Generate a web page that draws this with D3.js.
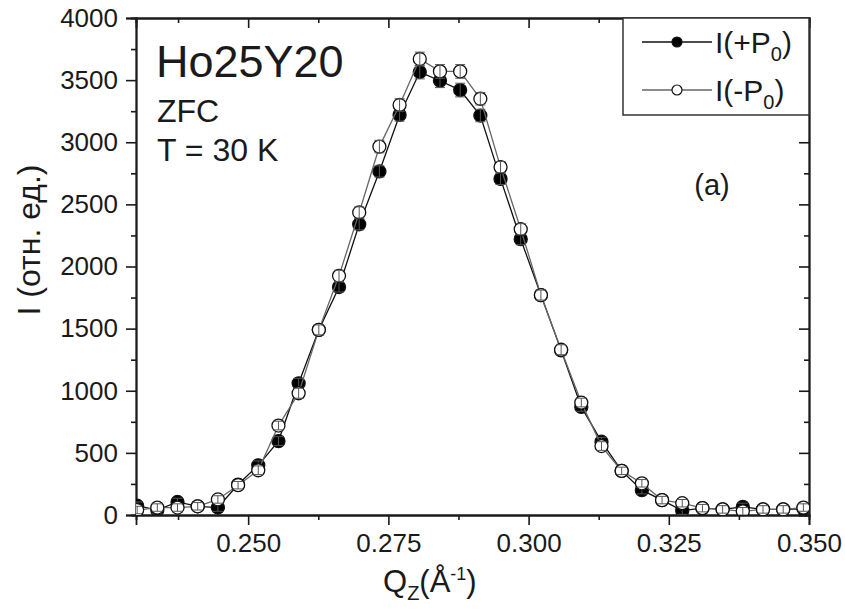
<!DOCTYPE html>
<html>
<head>
<meta charset="utf-8">
<script src="https://cdn.jsdelivr.net/npm/d3@7"></script>
<style>
  body { margin: 0; background: #fff; }
  svg text { font-family: "Liberation Sans", Arial, sans-serif; fill: #1a1a1a; }
</style>
</head>
<body>
<script>
// ----------------------------------------------------------------
// data
// ----------------------------------------------------------------
var qz = [0.2302, 0.2338, 0.2374, 0.2410, 0.2446, 0.2482, 0.2518, 0.2554, 0.2590, 0.2626,
          0.2662, 0.2698, 0.2734, 0.2770, 0.2806, 0.2842, 0.2878, 0.2914, 0.2950, 0.2986,
          0.3022, 0.3058, 0.3094, 0.3130, 0.3166, 0.3202, 0.3238, 0.3274, 0.3310, 0.3346,
          0.3382, 0.3418, 0.3454, 0.3490];

var i_plus  = [75, 40, 105, 70, 60, 245, 400, 595, 1060, 1490,
               1835, 2340, 2765, 3220, 3565, 3495, 3420, 3215, 2705, 2220,
               1770, 1325, 870, 590, 355, 200, 120, 35, 55, 45,
               65, 45, 45, 50];

var i_minus = [40, 60, 60, 70, 125, 240, 360, 720, 980, 1490,
               1925, 2435, 2965, 3300, 3670, 3570, 3570, 3350, 2800, 2300,
               1770, 1330, 905, 555, 355, 255, 120, 95, 55, 45,
               30, 45, 45, 60];

var err_plus  = [30, 30, 30, 30, 30, 30, 35, 35, 40, 40,
                 40, 45, 45, 50, 55, 55, 55, 50, 45, 45,
                 40, 40, 35, 35, 30, 30, 30, 30, 30, 30,
                 30, 30, 30, 30];

var err_minus = [30, 30, 30, 30, 30, 30, 35, 35, 40, 40,
                 45, 45, 50, 50, 55, 55, 55, 50, 45, 45,
                 40, 40, 35, 35, 30, 30, 30, 30, 30, 30,
                 30, 30, 30, 30];

var x_major = [0.250, 0.275, 0.300, 0.325, 0.350];
var x_minor = [0.2375, 0.2625, 0.2875, 0.3125, 0.3375];
var y_major = [0, 500, 1000, 1500, 2000, 2500, 3000, 3500, 4000];
var y_minor = [250, 750, 1250, 1750, 2250, 2750, 3250, 3750];

// ----------------------------------------------------------------
var W = 845, H = 609;
var margin = { top: 18, right: 36, bottom: 94, left: 136 };
var width = W - margin.left - margin.right;
var height = H - margin.top - margin.bottom;

var svg = d3.select("body").append("svg")
    .attr("width", W)
    .attr("height", H);

var g = svg.append("g")
    .attr("transform", "translate(" + margin.left + "," + margin.top + ")");

var x = d3.scaleLinear().domain([0.230, 0.350]).range([0, width]);
var y = d3.scaleLinear().domain([0, 4000]).range([height, 0]);

g.append("clipPath").attr("id", "plot-clip")
  .append("rect").attr("width", width).attr("height", height);

// ----------------------------------------------------------------
// axes (major + minor, frame on all four sides)
function style_axis(sel) {
  sel.attr("font-size", null).attr("font-family", null);
  sel.select(".domain").attr("stroke", "#1a1a1a").attr("stroke-width", 1.8);
  sel.selectAll(".tick line").attr("stroke", "#1a1a1a").attr("stroke-width", 1.6);
  sel.selectAll(".tick text").style("font-size", "26px").attr("fill", "#1a1a1a");
}

var ax_bottom = g.append("g").attr("transform", "translate(0," + height + ")")
  .call(d3.axisBottom(x).tickValues(x_major).tickSize(10).tickPadding(9).tickFormat(d3.format(".3f")));
style_axis(ax_bottom);
var ax_bottom_minor = g.append("g").attr("transform", "translate(0," + height + ")")
  .call(d3.axisBottom(x).tickValues(x_minor).tickSize(5).tickFormat(""));
style_axis(ax_bottom_minor);

var ax_top = g.append("g")
  .call(d3.axisBottom(x).tickValues(x_major).tickSize(10).tickFormat(""));
style_axis(ax_top);
var ax_top_minor = g.append("g")
  .call(d3.axisBottom(x).tickValues(x_minor).tickSize(5).tickFormat(""));
style_axis(ax_top_minor);

var ax_left = g.append("g")
  .call(d3.axisLeft(y).tickValues(y_major).tickSize(10).tickPadding(8).tickFormat(d3.format("d")));
style_axis(ax_left);
var ax_left_minor = g.append("g")
  .call(d3.axisLeft(y).tickValues(y_minor).tickSize(5).tickFormat(""));
style_axis(ax_left_minor);

var ax_right = g.append("g").attr("transform", "translate(" + width + ",0)")
  .call(d3.axisLeft(y).tickValues(y_major).tickSize(10).tickFormat(""));
style_axis(ax_right);
var ax_right_minor = g.append("g").attr("transform", "translate(" + width + ",0)")
  .call(d3.axisLeft(y).tickValues(y_minor).tickSize(5).tickFormat(""));
style_axis(ax_right_minor);

// ----------------------------------------------------------------
// series
var plot = g.append("g").attr("clip-path", "url(#plot-clip)");

var series = [
  { vals: i_plus,  errs: err_plus,  line: "#111", fill: "#000" },
  { vals: i_minus, errs: err_minus, line: "#666", fill: "#fff" }
];

var line = d3.line()
  .x(function(d) { return x(d.q); })
  .y(function(d) { return y(d.v); });

series.forEach(function(s) {
  var pts = qz.map(function(q, i) { return { q: q, v: s.vals[i], e: s.errs[i] }; });

  plot.append("path")
    .datum(pts)
    .attr("d", line)
    .attr("fill", "none")
    .attr("stroke", s.line)
    .attr("stroke-width", 1.3);

  plot.append("g").selectAll("circle")
    .data(pts)
    .enter()
    .append("circle")
    .attr("cx", function(d) { return x(d.q); })
    .attr("cy", function(d) { return y(d.v); })
    .attr("r", 6.5)
    .attr("fill", s.fill)
    .attr("stroke", "#111")
    .attr("stroke-width", 1.3);

  // error bars on top of the markers
  var eb = plot.append("g").selectAll("g")
    .data(pts)
    .enter()
    .append("g")
    .attr("stroke", "#555")
    .attr("stroke-width", 1);
  eb.append("line")
    .attr("x1", function(d) { return x(d.q); })
    .attr("x2", function(d) { return x(d.q); })
    .attr("y1", function(d) { return y(d.v - d.e); })
    .attr("y2", function(d) { return y(d.v + d.e); });
  eb.append("line")
    .attr("x1", function(d) { return x(d.q) - 5; })
    .attr("x2", function(d) { return x(d.q) + 5; })
    .attr("y1", function(d) { return y(d.v + d.e); })
    .attr("y2", function(d) { return y(d.v + d.e); });
  eb.append("line")
    .attr("x1", function(d) { return x(d.q) - 5; })
    .attr("x2", function(d) { return x(d.q) + 5; })
    .attr("y1", function(d) { return y(d.v - d.e); })
    .attr("y2", function(d) { return y(d.v - d.e); });
});

// ----------------------------------------------------------------
// annotations
svg.append("text").attr("x", 156).attr("y", 77).style("font-size", "45px").text("Ho25Y20");
svg.append("text").attr("x", 157).attr("y", 122).style("font-size", "32px").text("ZFC");
svg.append("text").attr("x", 157).attr("y", 161).style("font-size", "32px").text("T = 30 K");
svg.append("text").attr("x", 712).attr("y", 195).attr("text-anchor", "middle")
  .style("font-size", "29px").text("(a)");

// axis titles
var xt = svg.append("text").attr("x", 383).attr("y", 592).style("font-size", "31px");
xt.append("tspan").text("Q");
xt.append("tspan").attr("dy", 8).style("font-size", "20px").text("Z");
xt.append("tspan").attr("dy", -8).text("(Å");
xt.append("tspan").attr("dy", -12).style("font-size", "18px").text("-1");
xt.append("tspan").attr("dy", 12).text(")");

svg.append("text")
  .attr("transform", "translate(40,240) rotate(-90)")
  .attr("text-anchor", "middle")
  .style("font-size", "32px")
  .attr("fill", "#2a2320")
  .text("I (отн. ед.)");

// ----------------------------------------------------------------
// legend
var legend = svg.append("g").attr("transform", "translate(623," + margin.top + ")");
legend.append("rect")
  .attr("width", width + margin.left - 623)
  .attr("height", 97)
  .attr("fill", "#fff")
  .attr("stroke", "#333")
  .attr("stroke-width", 1.5);

var legend_items = [
  { label: "I(+P", fill: "#000", line: "#111", row: 24 },
  { label: "I(-P", fill: "#fff", line: "#666", row: 72 }
];

legend_items.forEach(function(it) {
  var r = legend.append("g").attr("transform", "translate(0," + it.row + ")");
  r.append("line").attr("x1", 19).attr("x2", 89).attr("stroke", it.line).attr("stroke-width", 1.3);
  r.append("circle").attr("cx", 54).attr("r", 5).attr("fill", it.fill).attr("stroke", "#111").attr("stroke-width", 1.2);
  var t = r.append("text").attr("x", 92).attr("y", 11).style("font-size", "30px");
  t.append("tspan").text(it.label);
  t.append("tspan").attr("dy", 8).style("font-size", "20px").text("0");
  t.append("tspan").attr("dy", -8).text(")");
});
</script>
</body>
</html>
